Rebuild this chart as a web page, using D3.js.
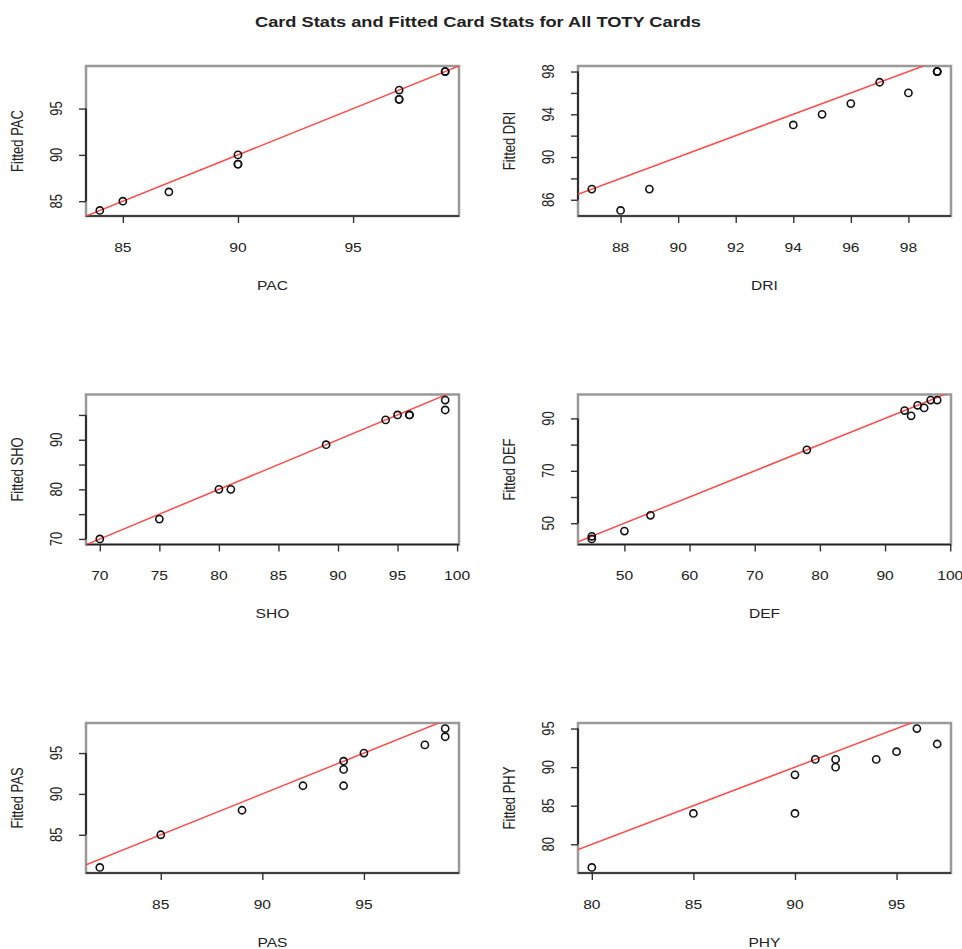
<!DOCTYPE html>
<html>
<head>
<meta charset="utf-8">
<script src="https://cdn.jsdelivr.net/npm/d3@7"></script>
<style>
body { margin: 0; background: #fff; }
svg { display: block; font-family: "Liberation Sans", Arial, sans-serif; }
</style>
</head>
<body>
<div id="graph"></div>
<script>
// card stats (x) and fitted card stats (y) for the TOTY cards
var pacX = [84, 85, 87, 90, 90, 90, 97, 97, 97, 99, 99];
var pacY = [84, 85, 86, 90, 89, 89, 97, 96, 96, 99, 99];
var driX = [87, 88, 89, 94, 95, 96, 97, 98, 99, 99, 99];
var driY = [87, 85, 87, 93, 94, 95, 97, 96, 98, 98, 98];
var shoX = [70, 75, 80, 81, 89, 94, 95, 96, 96, 99, 99];
var shoY = [70, 74, 80, 80, 89, 94, 95, 95, 95, 98, 96];
var defX = [45, 45, 50, 54, 78, 93, 94, 95, 96, 97, 98];
var defY = [45, 44, 47, 53, 78, 93, 91, 95, 94, 97, 97];
var pasX = [82, 85, 89, 92, 94, 94, 94, 95, 98, 99, 99];
var pasY = [81, 85, 88, 91, 94, 93, 91, 95, 96, 98, 97];
var phyX = [80, 85, 90, 90, 91, 92, 92, 94, 95, 96, 97];
var phyY = [77, 84, 89, 84, 91, 91, 90, 91, 92, 95, 93];

// tick marks and the labels R kept
var pacXTicks = [85, 90, 95],            pacYTicks = [85, 90, 95],          pacYLabels = [85, 90, 95];
var driXTicks = [88, 90, 92, 94, 96, 98], driYTicks = [86, 88, 90, 92, 94, 96, 98], driYLabels = [86, 90, 94, 98];
var shoXTicks = [70, 75, 80, 85, 90, 95, 100], shoYTicks = [70, 75, 80, 85, 90, 95], shoYLabels = [70, 80, 90];
var defXTicks = [50, 60, 70, 80, 90, 100], defYTicks = [50, 60, 70, 80, 90], defYLabels = [50, 70, 90];
var pasXTicks = [85, 90, 95],            pasYTicks = [85, 90, 95],          pasYLabels = [85, 90, 95];
var phyXTicks = [80, 85, 90, 95],        phyYTicks = [80, 85, 90, 95],      phyYLabels = [80, 85, 90, 95];

var panels = [
	{ name: "PAC", x: pacX, y: pacY, xt: pacXTicks, yt: pacYTicks, yl: pacYLabels },
	{ name: "DRI", x: driX, y: driY, xt: driXTicks, yt: driYTicks, yl: driYLabels },
	{ name: "SHO", x: shoX, y: shoY, xt: shoXTicks, yt: shoYTicks, yl: shoYLabels },
	{ name: "DEF", x: defX, y: defY, xt: defXTicks, yt: defYTicks, yl: defYLabels },
	{ name: "PAS", x: pasX, y: pasY, xt: pasXTicks, yt: pasYTicks, yl: pasYLabels },
	{ name: "PHY", x: phyX, y: phyY, xt: phyXTicks, yt: phyYTicks, yl: phyYLabels }
];

var W = 962, H = 949;
var colLeft = [86, 578], boxW = 373;
var rowTop = [66, 394.5, 723], boxH = 150;
var SX = 1.2; // the picture is a bit stretched sideways

var svg = d3.select("#graph").append("svg")
	.attr("width", W)
	.attr("height", H);

function label(g, x, y, txt, rot, size, weight) {
	return g.append("text")
		.attr("transform", "translate(" + x + "," + y + ") scale(" + SX + ",1)" + (rot ? " rotate(-90)" : ""))
		.attr("text-anchor", "middle")
		.attr("dy", "0.35em")
		.attr("font-size", size || 13)
		.attr("font-weight", weight || "normal")
		.attr("fill", "#222")
		.text(txt);
}

label(svg, 478, 22, "Card Stats and Fitted Card Stats for All TOTY Cards", false, 15.2, "bold");

// R style range: data extent padded by 4%
function pad(ext) {
	var d = (ext[1] - ext[0]) * 0.04;
	return [ext[0] - d, ext[1] + d];
}

panels.forEach(function(p, i) {
	var left = colLeft[i % 2], top = rowTop[Math.floor(i / 2)];
	var g = svg.append("g").attr("transform", "translate(" + left + "," + top + ")");

	var x = d3.scaleLinear().domain(pad(d3.extent(p.x))).range([0, boxW]);
	var y = d3.scaleLinear().domain(pad(d3.extent(p.y))).range([boxH, 0]);

	g.append("clipPath").attr("id", "clip" + i)
		.append("rect").attr("width", boxW).attr("height", boxH);

	// box
	g.append("rect")
		.attr("width", boxW).attr("height", boxH)
		.attr("fill", "none")
		.attr("stroke", "#999")
		.attr("stroke-width", 2.5);

	// x axis
	var xa = g.append("g")
		.attr("transform", "translate(0," + boxH + ")")
		.call(d3.axisBottom(x).tickValues(p.xt).tickSize(7).tickFormat(""));
	xa.select(".domain").attr("d", "M0,0H" + boxW).attr("stroke", "#222").attr("stroke-width", 1.4);
	xa.selectAll(".tick line").attr("stroke", "#333").attr("stroke-width", 1.4);
	p.xt.forEach(function(v) { label(g, x(v), boxH + 31, v); });

	// y axis
	var ya = g.append("g")
		.call(d3.axisLeft(y).tickValues(p.yt).tickSize(7).tickFormat(""));
	ya.select(".domain")
		.attr("d", "M0," + y(p.yt[0]) + "V" + y(p.yt[p.yt.length - 1]))
		.attr("stroke", "#222").attr("stroke-width", 1.8);
	ya.selectAll(".tick line").attr("stroke", "#333").attr("stroke-width", 1.4);
	p.yl.forEach(function(v) { label(g, -29, y(v), v, true); });

	// titles
	label(g, boxW / 2, boxH + 69, p.name);
	label(g, -68, boxH / 2, "Fitted " + p.name, true);

	// y = x reference line
	var xd = x.domain();
	g.append("line")
		.attr("clip-path", "url(#clip" + i + ")")
		.attr("x1", x(xd[0])).attr("y1", y(xd[0]))
		.attr("x2", x(xd[1])).attr("y2", y(xd[1]))
		.attr("stroke", "#ff4a4a")
		.attr("stroke-width", 1.5);

	// points
	g.selectAll("circle")
		.data(d3.zip(p.x, p.y))
		.enter()
		.append("circle")
		.attr("cx", function(d) { return x(d[0]); })
		.attr("cy", function(d) { return y(d[1]); })
		.attr("r", 3.6)
		.attr("fill", "none")
		.attr("stroke", "#111")
		.attr("stroke-width", 1.6);
});
</script>
</body>
</html>
